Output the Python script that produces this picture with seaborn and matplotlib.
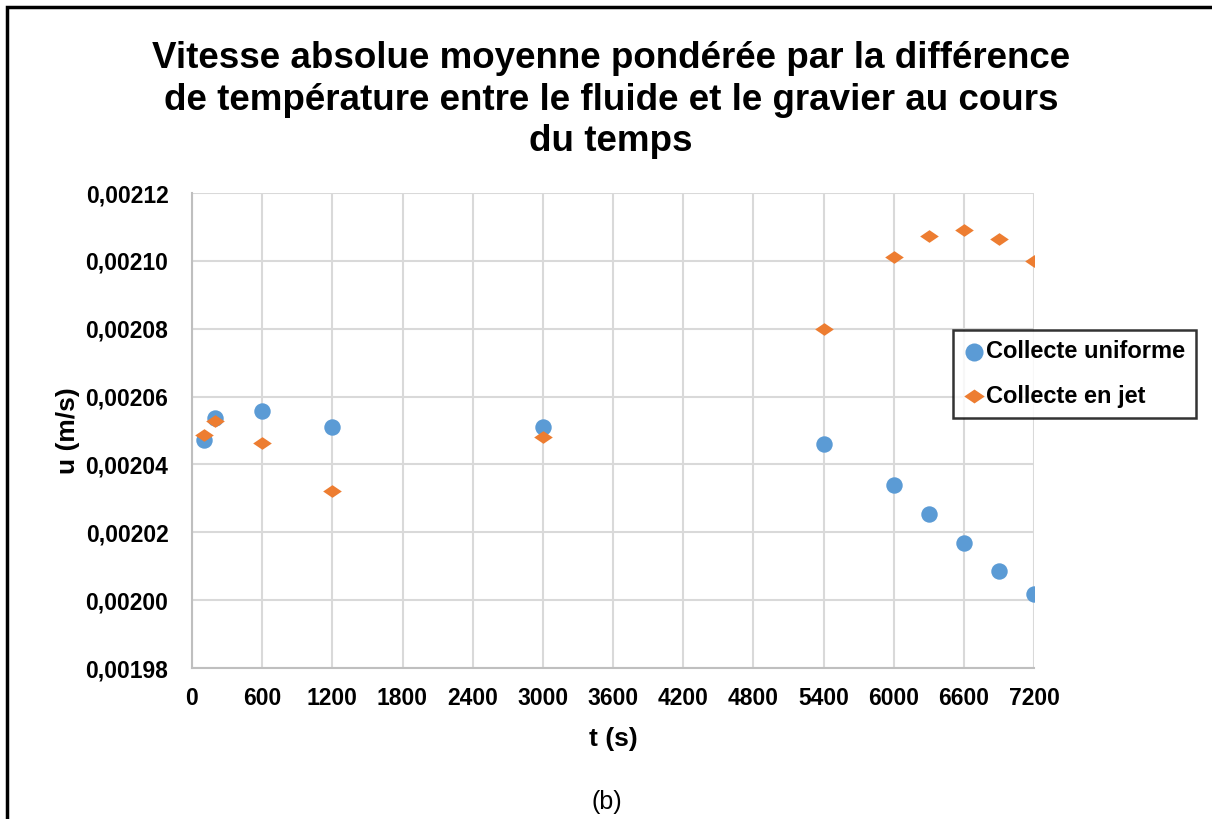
import numpy as np
import pandas as pd
import matplotlib
matplotlib.use("Agg")
import matplotlib.pyplot as plt
from matplotlib.path import Path
from matplotlib.ticker import FuncFormatter, MultipleLocator
import seaborn as sns

# données
t = [100, 200, 600, 1200, 3000, 5400, 6000, 6300, 6600, 6900, 7200]
u_uniforme = [0.0020473, 0.0020536, 0.0020558, 0.0020509, 0.0020510, 0.0020460,
              0.0020340, 0.0020255, 0.0020167, 0.0020087, 0.0020019]
u_jet = [0.0020488, 0.0020527, 0.0020462, 0.0020323, 0.0020480, 0.0020800,
         0.0021012, 0.0021073, 0.0021092, 0.0021065, 0.0020999]
series = ["Collecte uniforme", "Collecte en jet"]
couleurs = ["#5B9BD5", "#ED7D31"]

df = pd.concat([
    pd.DataFrame({"t": t, "u": u_uniforme, "serie": series[0]}),
    pd.DataFrame({"t": t, "u": u_jet, "serie": series[1]}),
])

sns.set_style("white")
plt.rcParams["font.family"] = ["Liberation Sans", "DejaVu Sans"]
plt.rcParams["text.color"] = "black"
plt.rcParams["axes.labelcolor"] = "black"
plt.rcParams["xtick.color"] = "black"
plt.rcParams["ytick.color"] = "black"

fig = plt.figure(figsize=(12.12, 8.19), dpi=100)
ax = fig.add_axes([192 / 1212, 1 - 668 / 819, 842 / 1212, 475 / 819])

# losange aplati comme dans Excel
losange = Path([(-1, 0), (0, 0.68), (1, 0), (0, -0.68), (-1, 0)],
               [Path.MOVETO, Path.LINETO, Path.LINETO, Path.LINETO, Path.CLOSEPOLY])

sns.scatterplot(data=df[df.serie == series[0]], x="t", y="u", ax=ax,
                color=couleurs[0], marker="o", s=140, linewidth=0,
                label=series[0], zorder=3)
sns.scatterplot(data=df[df.serie == series[1]], x="t", y="u", ax=ax,
                color=couleurs[1], marker=losange, s=180, linewidth=0,
                label=series[1], zorder=4)

ax.set_xlim(0, 7200)
ax.set_ylim(0.00198, 0.00212)
ax.xaxis.set_major_locator(MultipleLocator(600))
ax.yaxis.set_major_locator(MultipleLocator(0.00002))
ax.yaxis.set_major_formatter(FuncFormatter(lambda v, p: f"{v:.5f}".replace(".", ",")))
ax.grid(True, color="#d9d9d9", linewidth=1.5)
ax.set_axisbelow(True)
for s in ["top", "right"]:
    ax.spines[s].set_visible(False)
for s in ["left", "bottom"]:
    ax.spines[s].set_color("#bfbfbf")
    ax.spines[s].set_linewidth(1.5)
ax.tick_params(axis="both", length=0, labelsize=16.5)
ax.tick_params(axis="y", pad=17)
ax.tick_params(axis="x", pad=14)
for lab in ax.get_xticklabels() + ax.get_yticklabels():
    lab.set_fontweight("bold")

ax.set_xlabel("t (s)", fontsize=19, fontweight="bold", labelpad=12)
ax.set_ylabel("u (m/s)", fontsize=19, fontweight="bold", labelpad=4)

leg = ax.legend(loc="upper left", bbox_to_anchor=(0.904, 0.712), borderaxespad=0,
                frameon=True, fancybox=False, prop={"size": 17, "weight": "bold"},
                handletextpad=0.05, handlelength=0.9, borderpad=0.45,
                labelspacing=0.9, markerscale=1.1)
leg.get_frame().set_edgecolor("black")
leg.get_frame().set_linewidth(1.8)

fig.text(611 / 1212, 1 - 100 / 819,
         "Vitesse absolue moyenne pondérée par la différence\n"
         "de température entre le fluide et le gravier au cours\n"
         "du temps",
         ha="center", va="center", fontsize=26.5, fontweight="bold", linespacing=1.25)

fig.text(607 / 1212, 1 - 802 / 819, "(b)", ha="center", va="center", fontsize=18)

# cadre noir autour de la figure
fig.add_artist(plt.Rectangle((7 / 1212, -0.2), 1.2, 1.2 - 7 / 819,
                             transform=fig.transFigure, fill=False,
                             edgecolor="black", linewidth=2.5))

fig.savefig("out.png", dpi=100)
